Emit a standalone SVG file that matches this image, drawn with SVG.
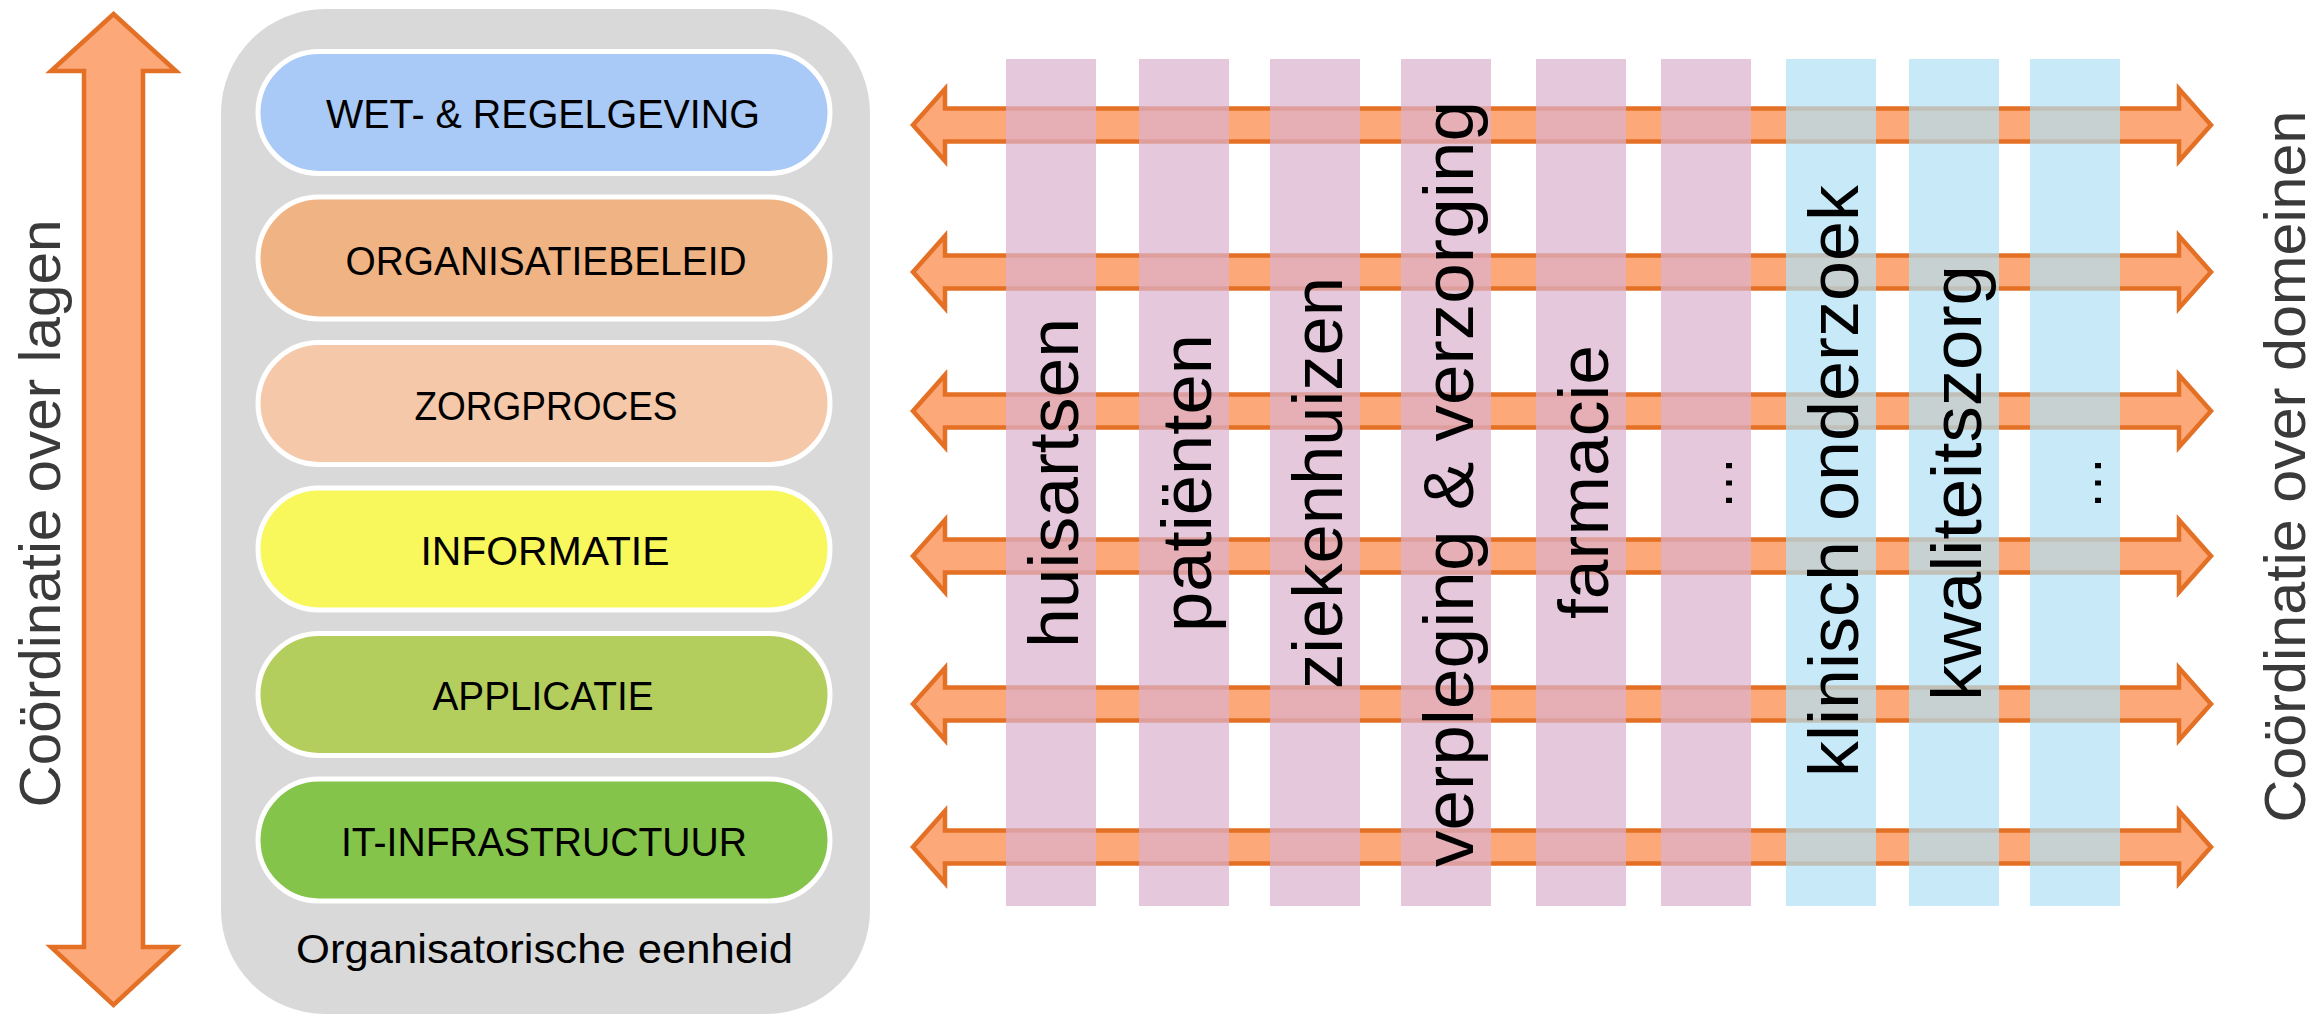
<svg xmlns="http://www.w3.org/2000/svg" width="2316" height="1016" viewBox="0 0 2316 1016">
<style>
.bg{fill:#ffffff}
.unit{fill:#D9D9D9}
.pill{stroke:#ffffff;stroke-width:5}
.ptxt{font-family:"Liberation Sans",Arial,sans-serif;font-size:40px;fill:#000000;text-anchor:middle}
.arrow{fill:#FCA878;stroke:#E37024;stroke-width:4.5;stroke-linejoin:miter}
.bp{fill:#DCB1CE;fill-opacity:0.71}
.bb{fill:#B1E1F5;fill-opacity:0.71}
.btxt{font-family:"Liberation Sans",Arial,sans-serif;font-size:71px;fill:#000000;text-anchor:middle}
.dots{font-family:"Liberation Sans",Arial,sans-serif;font-size:55px;fill:#000000;text-anchor:middle}
.side{font-family:"Liberation Sans",Arial,sans-serif;font-size:58px;fill:#3A3A3A;text-anchor:middle}
</style>
<rect class="bg" x="0" y="0" width="2316" height="1016"/>

<g id="organisatorische-eenheid">
  <rect class="unit" x="221" y="9" width="649" height="1005" rx="104" ry="104"/>
  <text class="ptxt" x="544.5" y="963" font-size="41" textLength="497" lengthAdjust="spacingAndGlyphs">Organisatorische eenheid</text>
</g>

<g id="laag-wet">
  <rect class="pill" x="258" y="51.5" width="572" height="122" rx="61" fill="#A9CAF7"/>
  <text class="ptxt" x="543" y="128" textLength="434" lengthAdjust="spacingAndGlyphs">WET- &amp; REGELGEVING</text>
</g>
<g id="laag-organisatiebeleid">
  <rect class="pill" x="258" y="197" width="572" height="122" rx="61" fill="#F0B383"/>
  <text class="ptxt" x="546" y="274.5" textLength="401" lengthAdjust="spacingAndGlyphs">ORGANISATIEBELEID</text>
</g>
<g id="laag-zorgproces">
  <rect class="pill" x="258" y="342.5" width="572" height="122" rx="61" fill="#F4C8A8"/>
  <text class="ptxt" x="546" y="420" textLength="263" lengthAdjust="spacingAndGlyphs">ZORGPROCES</text>
</g>
<g id="laag-informatie">
  <rect class="pill" x="258" y="488" width="572" height="122" rx="61" fill="#F8F75C"/>
  <text class="ptxt" x="545" y="565" textLength="249" lengthAdjust="spacingAndGlyphs">INFORMATIE</text>
</g>
<g id="laag-applicatie">
  <rect class="pill" x="258" y="633.5" width="572" height="122" rx="61" fill="#B3CE5C"/>
  <text class="ptxt" x="543" y="710" textLength="221" lengthAdjust="spacingAndGlyphs">APPLICATIE</text>
</g>
<g id="laag-it-infrastructuur">
  <rect class="pill" x="258" y="779" width="572" height="122" rx="61" fill="#84C44A"/>
  <text class="ptxt" x="544" y="856" textLength="406" lengthAdjust="spacingAndGlyphs">IT-INFRASTRUCTUUR</text>
</g>

<g id="connectors">
  <path class="arrow" d="M113.5 14 L176 71 L143 71 L143 947 L176 947 L113.5 1005 L51 947 L84 947 L84 71 L51 71 Z"/>
  <path class="arrow" d="M913 125 L945 89 L945 108.5 L2179 108.5 L2179 89 L2211 125 L2179 161 L2179 141.5 L945 141.5 L945 161 Z"/>
  <path class="arrow" d="M913 272 L945 236 L945 255.5 L2179 255.5 L2179 236 L2211 272 L2179 308 L2179 288.5 L945 288.5 L945 308 Z"/>
  <path class="arrow" d="M913 411 L945 375 L945 394.5 L2179 394.5 L2179 375 L2211 411 L2179 447 L2179 427.5 L945 427.5 L945 447 Z"/>
  <path class="arrow" d="M913 556 L945 520 L945 539.5 L2179 539.5 L2179 520 L2211 556 L2179 592 L2179 572.5 L945 572.5 L945 592 Z"/>
  <path class="arrow" d="M913 704 L945 668 L945 687.5 L2179 687.5 L2179 668 L2211 704 L2179 740 L2179 720.5 L945 720.5 L945 740 Z"/>
  <path class="arrow" d="M913 847 L945 811 L945 830.5 L2179 830.5 L2179 811 L2211 847 L2179 883 L2179 863.5 L945 863.5 L945 883 Z"/>
</g>

<g id="domein-huisartsen">
  <rect class="bp" x="1006" y="59" width="90" height="847"/>
  <text class="btxt" transform="translate(1078 483) rotate(-90)" x="0" y="0" textLength="330" lengthAdjust="spacingAndGlyphs">huisartsen</text>
</g>
<g id="domein-patienten">
  <rect class="bp" x="1139" y="59" width="90" height="847"/>
  <text class="btxt" transform="translate(1211 483) rotate(-90)" x="0" y="0" textLength="298" lengthAdjust="spacingAndGlyphs">patiënten</text>
</g>
<g id="domein-ziekenhuizen">
  <rect class="bp" x="1270" y="59" width="90" height="847"/>
  <text class="btxt" transform="translate(1342 483) rotate(-90)" x="0" y="0" textLength="412" lengthAdjust="spacingAndGlyphs">ziekenhuizen</text>
</g>
<g id="domein-verpleging">
  <rect class="bp" x="1401" y="59" width="90" height="847"/>
  <text class="btxt" transform="translate(1473 484) rotate(-90)" x="0" y="0" textLength="766" lengthAdjust="spacingAndGlyphs">verpleging &amp; verzorging</text>
</g>
<g id="domein-farmacie">
  <rect class="bp" x="1536" y="59" width="90" height="847"/>
  <text class="btxt" transform="translate(1608 482) rotate(-90)" x="0" y="0" textLength="274" lengthAdjust="spacingAndGlyphs">farmacie</text>
</g>
<g id="domein-overig-1">
  <rect class="bp" x="1661" y="59" width="90" height="847"/>
  <text class="dots" transform="translate(1732 483) rotate(-90)" x="0" y="0">…</text>
</g>
<g id="domein-klinisch-onderzoek">
  <rect class="bb" x="1786" y="59" width="90" height="847"/>
  <text class="btxt" transform="translate(1858 481) rotate(-90)" x="0" y="0" textLength="592" lengthAdjust="spacingAndGlyphs">klinisch onderzoek</text>
</g>
<g id="domein-kwaliteitszorg">
  <rect class="bb" x="1909" y="59" width="90" height="847"/>
  <text class="btxt" transform="translate(1981 483) rotate(-90)" x="0" y="0" textLength="436" lengthAdjust="spacingAndGlyphs">kwaliteitszorg</text>
</g>
<g id="domein-overig-2">
  <rect class="bb" x="2030" y="59" width="90" height="847"/>
  <text class="dots" transform="translate(2101 483) rotate(-90)" x="0" y="0">…</text>
</g>

<g id="label-lagen">
  <text class="side" transform="translate(60 513.5) rotate(-90)" x="0" y="0" textLength="588" lengthAdjust="spacingAndGlyphs">Coördinatie over lagen</text>
</g>
<g id="label-domeinen">
  <text class="side" transform="translate(2305 466.5) rotate(-90)" x="0" y="0" textLength="712" lengthAdjust="spacingAndGlyphs">Coördinatie over domeinen</text>
</g>
</svg>
